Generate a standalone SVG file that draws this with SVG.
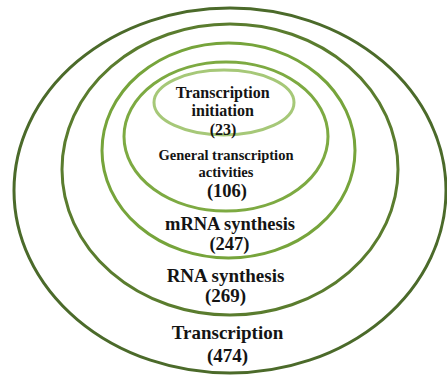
<svg xmlns="http://www.w3.org/2000/svg" width="447" height="376" viewBox="0 0 447 376">
  <style>
    .ring { fill: none; }
    text { font-family: 'Liberation Serif', 'DejaVu Serif', serif; font-weight: 700; fill: #141414; text-anchor: middle; }
  </style>
  <rect width="447" height="376" fill="#ffffff"/>
  <g id="transcription">
    <ellipse class="ring" cx="230" cy="190.5" rx="216" ry="182.5" stroke="#4b6a2a" stroke-width="3"/>
    <text x="227.5" y="339" font-size="19">Transcription</text>
    <text x="227.5" y="362" font-size="19">(474)</text>
  </g>
  <g id="rna-synthesis">
    <ellipse class="ring" cx="230" cy="169.5" rx="168" ry="145.5" stroke="#5a7c2e" stroke-width="3"/>
    <text x="225.5" y="282" font-size="19">RNA synthesis</text>
    <text x="225.5" y="302" font-size="19">(269)</text>
  </g>
  <g id="mrna-synthesis">
    <ellipse class="ring" cx="228.5" cy="150.5" rx="126.5" ry="107.5" stroke="#76a43b" stroke-width="3"/>
    <text x="230" y="230" font-size="18.5">mRNA synthesis</text>
    <text x="229.5" y="250" font-size="18.5">(247)</text>
  </g>
  <g id="general-transcription">
    <ellipse class="ring" cx="226" cy="136.5" rx="102" ry="74.5" stroke="#7daa42" stroke-width="3"/>
    <text x="226" y="160" font-size="14.5">General transcription</text>
    <text x="226" y="177" font-size="14.5">activities</text>
    <text x="227" y="197" font-size="18.5">(106)</text>
  </g>
  <g id="transcription-initiation">
    <ellipse class="ring" cx="224" cy="102.5" rx="70" ry="32.5" stroke="#a6c878" stroke-width="3"/>
    <text x="222.7" y="98" font-size="16">Transcription</text>
    <text x="222.7" y="116" font-size="16">initiation</text>
    <text x="223" y="135" font-size="16">(23)</text>
  </g>
</svg>
